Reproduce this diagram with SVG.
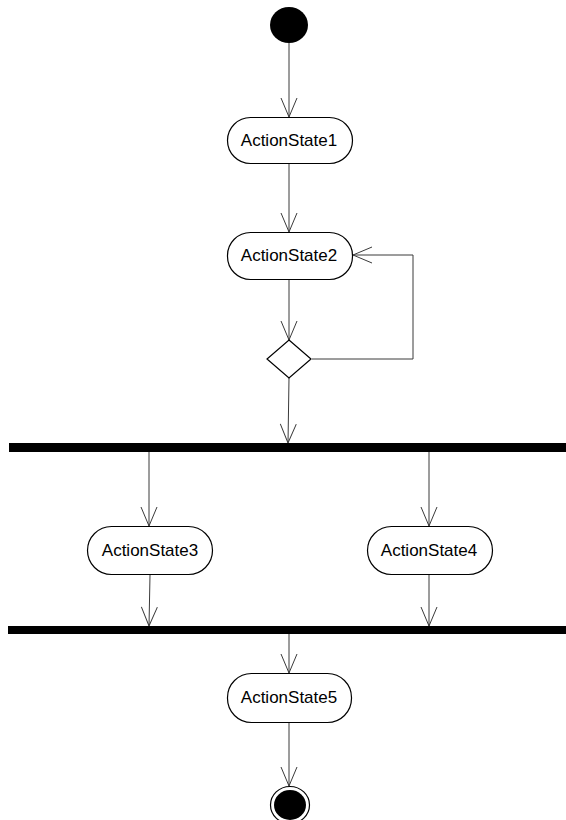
<svg xmlns="http://www.w3.org/2000/svg" width="566" height="820" viewBox="0 0 566 820">
  <style>
    .state rect { fill: #ffffff; stroke: #000000; stroke-width: 1.2; }
    .state text { font-family: "Liberation Sans", Arial, sans-serif; font-size: 17px; fill: #000000; text-anchor: middle; }
    .flow { fill: none; stroke: #3a3a3a; stroke-width: 1; }
    .bar { fill: #000000; }
  </style>
  <defs>
    <marker id="open-arrow" markerWidth="22" markerHeight="20" refX="20" refY="9" orient="auto" markerUnits="userSpaceOnUse">
      <path d="M1,1 L20,9 L1,17" fill="none" stroke="#3a3a3a" stroke-width="1"/>
    </marker>
  </defs>

  <rect width="566" height="820" fill="#ffffff"/>

  <!-- connectors -->
  <g id="connectors" class="flow" marker-end="url(#open-arrow)">
    <path d="M289,43 L289,117"/>
    <path d="M289,163 L289,232"/>
    <path d="M289,280 L289,340"/>
    <path d="M312,359 L413,359 L413,255 L353,255"/>
    <path d="M289,378 L288,443"/>
    <path d="M149,452 L149,526"/>
    <path d="M429,452 L429,526"/>
    <path d="M150,575 L149,626"/>
    <path d="M429,575 L429,626"/>
    <path d="M289,634 L289,673"/>
    <path d="M289,723 L289,786"/>
  </g>

  <!-- start -->
  <g id="initial">
    <ellipse cx="289" cy="25" rx="19" ry="18" fill="#000000"/>
  </g>

  <g id="ActionState1" class="state">
    <rect x="227.5" y="117.5" width="125" height="46" rx="23" ry="23"/>
    <text x="289" y="146">ActionState1</text>
  </g>

  <g id="ActionState2" class="state">
    <rect x="227.5" y="232.5" width="125" height="47" rx="23" ry="23"/>
    <text x="289" y="261">ActionState2</text>
  </g>

  <g id="decision">
    <polygon points="289,340 311,359 289,378 267,359" fill="#ffffff" stroke="#000000" stroke-width="1.2"/>
  </g>

  <g id="fork">
    <rect class="bar" x="9" y="443" width="557" height="9"/>
  </g>

  <g id="ActionState3" class="state">
    <rect x="87.5" y="526.5" width="125" height="48" rx="24" ry="24"/>
    <text x="150" y="556">ActionState3</text>
  </g>

  <g id="ActionState4" class="state">
    <rect x="367.5" y="526.5" width="125" height="48" rx="24" ry="24"/>
    <text x="429" y="556">ActionState4</text>
  </g>

  <g id="join">
    <rect class="bar" x="8" y="626" width="558" height="8"/>
  </g>

  <g id="ActionState5" class="state">
    <rect x="227.5" y="673.5" width="124" height="49" rx="24" ry="24"/>
    <text x="289" y="703">ActionState5</text>
  </g>

  <!-- final -->
  <g id="final">
    <ellipse cx="290" cy="805" rx="19.5" ry="18.5" fill="#ffffff" stroke="#000000" stroke-width="1.2"/>
    <ellipse cx="290" cy="805" rx="16" ry="15" fill="#000000"/>
  </g>
</svg>
